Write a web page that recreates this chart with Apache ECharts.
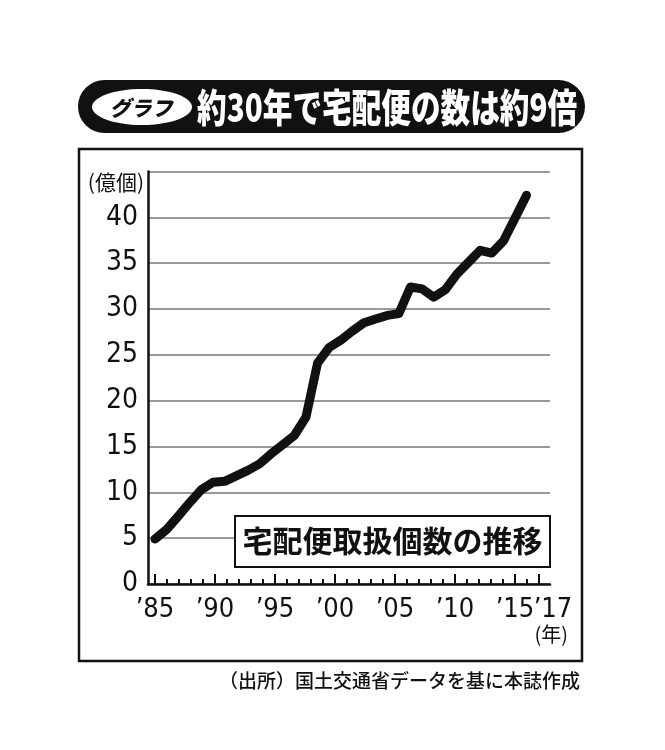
<!DOCTYPE html>
<html><head><meta charset="utf-8">
<script src="https://cdn.jsdelivr.net/npm/echarts@6/dist/echarts.min.js"></script>
<style>html,body{margin:0;padding:0;background:#fff}#c{width:665px;height:750px}</style>
</head><body><div id="c"></div>
<script>
// ---- data ----
const years = [1985,1986,1987,1988,1989,1990,1991,1992,1993,1994,1995,1996,1997,1998,1999,2000,2001,2002,2003,2004,2005,2006,2007,2008,2009,2010,2011,2012,2013,2014,2015,2016,2017];
const parcels = [4.9,5.95,7.4,8.9,10.3,11.1,11.2,11.8,12.4,13.1,14.2,15.2,16.2,18.2,24.1,25.8,26.6,27.6,28.5,28.9,29.3,29.5,32.4,32.2,31.3,32.1,33.8,35.1,36.4,36.1,37.4,39.9,42.4];
const majorYears = [1985,1990,1995,2000,2005,2010,2015];
const xTickLabels = ['’85','’90','’95','’00','’05','’10','’15'];
const lastYear = [2017];
const lastLabel = '’17';
const yTicks = [0,5,10,15,20,25,30,35,40];
const titleText = '約30年で宅配便の数は約9倍';
const badgeText = 'グラフ';
const boxText = '宅配便取扱個数の推移';
const sourceText = '（出所）国土交通省データを基に本誌作成';
const yUnit = '(億個)';
const xUnit = '(年)';

const numFont = '"Liberation Sans Narrow","DejaVu Sans Condensed",sans-serif';
const cjk = '"Noto Sans CJK JP","Noto Sans",sans-serif';

const chart = echarts.init(document.getElementById('c'), null, {renderer: 'canvas'});
const gridBox = {left: 148, right: 115, top: 171.5, bottom: 166};
const labelStyle = {fontFamily: numFont, fontSize: 27, color: '#111', margin: 12, hideOverlap: false, showMinLabel: true, showMaxLabel: true};

chart.setOption({
  backgroundColor: '#fff',
  animation: false,
  grid: gridBox,
  xAxis: [
    { // visible labels + long ticks
      type: 'value', min: 1984.42, max: 2017.92, position: 'bottom',
      axisLine: {show: true, onZero: false, lineStyle: {color: '#111', width: 2.5}},
      axisTick: {show: true, inside: true, length: 10, lineStyle: {color: '#111', width: 2}, customValues: majorYears},
      axisLabel: Object.assign({show: true, customValues: majorYears,
        formatter: function (v) {
          const i = majorYears.indexOf(Math.round(v));
          return i < 0 ? '' : xTickLabels[i];
        }}, labelStyle),
      splitLine: {show: false},
      name: xUnit, nameLocation: 'end', nameGap: 18,
      nameTextStyle: {fontFamily: cjk, fontSize: 20, color: '#111', align: 'right', verticalAlign: 'top', padding: [40, 0, 0, 0]}
    },
    { // data axis (line plotted on its own scale as in the original)
      type: 'value', min: 1984.397, max: 2019.02, show: false, position: 'bottom'
    },
    { // short ticks every year
      type: 'value', min: 1984.42, max: 2017.92, position: 'bottom',
      axisLine: {show: false},
      axisTick: {show: true, inside: true, length: 5, lineStyle: {color: '#111', width: 2}, customValues: years},
      axisLabel: {show: false},
      splitLine: {show: false}
    },
    { // last year tick + label
      type: 'value', min: 1984.42, max: 2017.92, position: 'bottom',
      axisLine: {show: false},
      axisTick: {show: true, inside: true, length: 10, lineStyle: {color: '#111', width: 2}, customValues: lastYear},
      axisLabel: Object.assign({show: true, customValues: lastYear, padding: [0, 0, 0, 28],
        formatter: function () { return lastLabel; }}, labelStyle),
      splitLine: {show: false}
    }
  ],
  yAxis: {
    type: 'value', min: 0, max: 45, interval: 5,
    axisLine: {show: true, lineStyle: {color: '#111', width: 2.5}},
    axisTick: {show: false},
    axisLabel: {
      margin: 10, fontFamily: numFont, fontSize: 28, color: '#111',
      formatter: function (v) { return yTicks.indexOf(v) >= 0 ? String(v) : ''; }
    },
    splitLine: {show: true, lineStyle: {color: '#9a9a9a', width: 2}},
    name: yUnit, nameLocation: 'end', nameGap: 0,
    nameTextStyle: {fontFamily: cjk, fontSize: 21, color: '#111', align: 'right', verticalAlign: 'top', padding: [0, 4, 0, 0]}
  },
  series: [{
    type: 'line', xAxisIndex: 1, yAxisIndex: 0,
    data: years.map((y, i) => [y, parcels[i]]),
    showSymbol: false, smooth: false,
    lineStyle: {color: '#111', width: 9, cap: 'round', join: 'round'},
    z: 5
  }],
  graphic: [
    {type: 'rect', shape: {x: 79, y: 149, width: 503, height: 512}, style: {fill: 'none', stroke: '#111', lineWidth: 2.5}, z: 1},
    {type: 'rect', shape: {x: 78, y: 80, width: 507, height: 53, r: 26.5}, style: {fill: '#111'}, z: 1},
    {type: 'ellipse', shape: {cx: 142, cy: 107, rx: 50, ry: 18}, style: {fill: '#fff'}, z: 2},
    {type: 'text', x: 141, y: 108, z: 3, style: {text: badgeText, fill: '#111', font: 'italic 900 21px ' + cjk, textAlign: 'center', textVerticalAlign: 'middle'}},
    {type: 'text', x: 197, y: 107, scaleX: 0.76, originX: 0, originY: 0, z: 3, style: {x: 0, y: 0, text: titleText, fill: '#fff', font: '900 39px ' + cjk, textAlign: 'left', textVerticalAlign: 'middle'}},
    {type: 'rect', shape: {x: 235, y: 516, width: 315, height: 51}, style: {fill: '#fff', stroke: '#111', lineWidth: 2}, z: 10},
    {type: 'text', x: 392.5, y: 541, z: 11, style: {text: boxText, fill: '#111', font: 'bold 30px ' + cjk, textAlign: 'center', textVerticalAlign: 'middle'}},
    {type: 'text', x: 580, y: 681, z: 3, style: {text: sourceText, fill: '#111', font: '500 19px ' + cjk, textAlign: 'right', textVerticalAlign: 'middle'}}
  ]
});
</script>
</body></html>
